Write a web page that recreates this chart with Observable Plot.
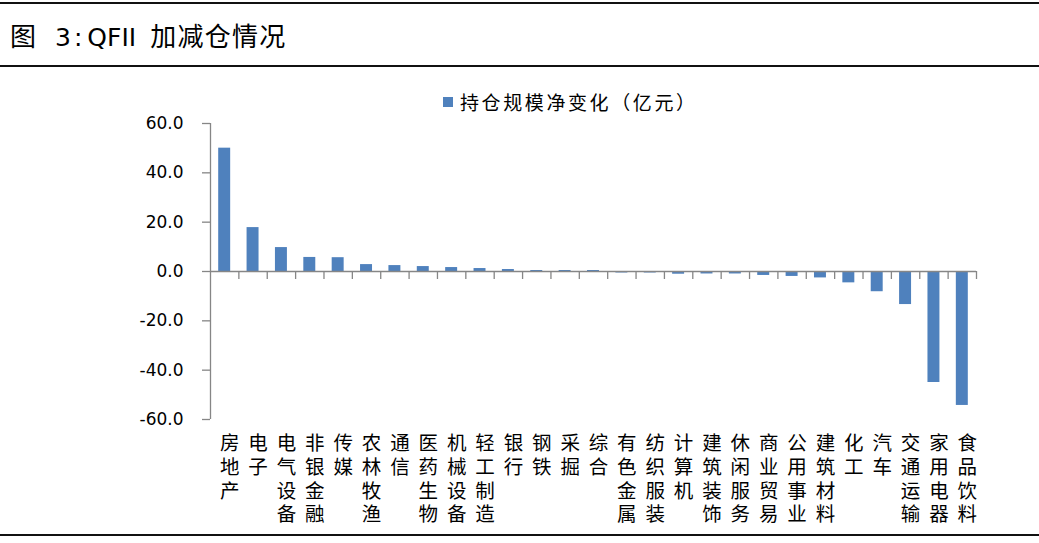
<!DOCTYPE html>
<html>
<head>
<meta charset="utf-8">
<script src="https://cdn.jsdelivr.net/npm/d3@7"></script>
<script src="https://cdn.jsdelivr.net/npm/@observablehq/plot@0.6"></script>
<style>
  html, body { margin: 0; padding: 0; background: #fff; }
  #wrap { position: relative; width: 1039px; height: 543px; overflow: hidden; background: #fff; }
  .hline { position: absolute; left: 0; width: 1039px; height: 2px; background: #111; z-index: 2; }
  #title { position: absolute; left: 10px; top: 20px; font-family: "Noto Sans CJK SC", sans-serif; font-size: 26px; line-height: 30px; color: #000; white-space: pre; z-index: 2; }
  #title .lat { font-family: "DejaVu Sans", sans-serif; font-size: 25px; }
  #title .g1 { margin-left: 19px; }
  #title .col { margin: 0 5px 0 3px; }
  #title .cn { margin-left: 14px; letter-spacing: 1.3px; }
  #legend { position: absolute; left: 443px; top: 90px; font-family: "Noto Sans CJK SC", sans-serif; font-size: 19px; line-height: 24px; color: #000; white-space: pre; display: flex; align-items: center; z-index: 2; letter-spacing: 2.6px; }
  #legend .sw { width: 10px; height: 10px; background: #4F81BD; margin-right: 7px; }
  #chart { position: absolute; left: 0; top: 67px; z-index: 1; }
</style>
</head>
<body>
<div id="wrap">
  <div class="hline" style="top:2px"></div>
  <div id="title"><span>图</span><span class="lat g1">3</span><span class="lat col">:</span><span class="lat">QFII</span><span class="cn">加减仓情况</span></div>
  <div class="hline" style="top:65px"></div>
  <div id="chart"></div>
  <div id="legend"><span class="sw"></span><span>持仓规模净变化（亿元）</span></div>
  <div class="hline" style="top:534px"></div>
</div>
<script>
const categories = ["房地产","电子","电气设备","非银金融","传媒","农林牧渔","通信","医药生物","机械设备","轻工制造","银行","钢铁","采掘","综合","有色金属","纺织服装","计算机","建筑装饰","休闲服务","商业贸易","公用事业","建筑材料","化工","汽车","交通运输","家用电器","食品饮料"];
const values = [50.0, 17.8, 9.7, 5.7, 5.6, 2.8, 2.4, 2.0, 1.6, 1.2, 0.8, 0.4, 0.4, 0.4, -0.6, -0.6, -1.1, -1.0, -1.0, -1.6, -2.0, -2.6, -4.6, -8.2, -13.4, -45.0, -54.3];
const yTicks = [-60, -40, -20, 0, 20, 40, 60];

const N = categories.length;
const data = categories.map((c, i) => ({cat: c, i, v: values[i]}));
const axisColor = "#868686";
const barColor = "#4F81BD";
const maxLen = d3.max(categories, c => c.length);
const charStep = 23.7;

// vertical (stacked) category labels: one character per text, upright
const labelMarks = d3.range(maxLen).map(k =>
  Plot.text(data.filter(d => d.cat.length > k), {
    x: d => d.i + 0.5, text: d => d.cat[k], frameAnchor: "bottom", lineAnchor: "top",
    dy: 17 + k * charStep, dx: 5, fontSize: 19.5, fill: "#000",
    fontFamily: "'Noto Sans CJK SC', sans-serif"
  })
);

const chart = Plot.plot({
  width: 1039,
  height: 465,
  marginLeft: 210,
  marginRight: 63,
  marginTop: 56,
  marginBottom: 113,
  style: {fontFamily: "'DejaVu Sans', 'Noto Sans CJK SC', sans-serif", background: "transparent", overflow: "visible"},
  x: {type: "linear", domain: [0, N], axis: null},
  y: {domain: [-60, 60], axis: null},
  marks: [
    Plot.rectY(data, {x1: d => d.i, x2: d => d.i + 1, y: "v", fill: barColor, insetLeft: 8.2, insetRight: 8.2}),
    Plot.ruleY([0], {x1: 0, x2: N, stroke: axisColor, strokeWidth: 1.3}),
    Plot.ruleX(d3.range(1, N + 1), {x: d => d, y1: 0, y2: 0, insetBottom: -8, stroke: axisColor, strokeWidth: 1.3}),
    Plot.ruleX([0], {y1: -60, y2: 60, stroke: axisColor, strokeWidth: 1.3}),
    Plot.axisY({ticks: yTicks, tickFormat: d => d.toFixed(1), tickSize: 8, tickPadding: 19, fontSize: 17, stroke: axisColor, fill: "#000", strokeWidth: 1.3, label: null}),
    ...labelMarks
  ]
});
document.getElementById("chart").appendChild(chart);
</script>
</body>
</html>
